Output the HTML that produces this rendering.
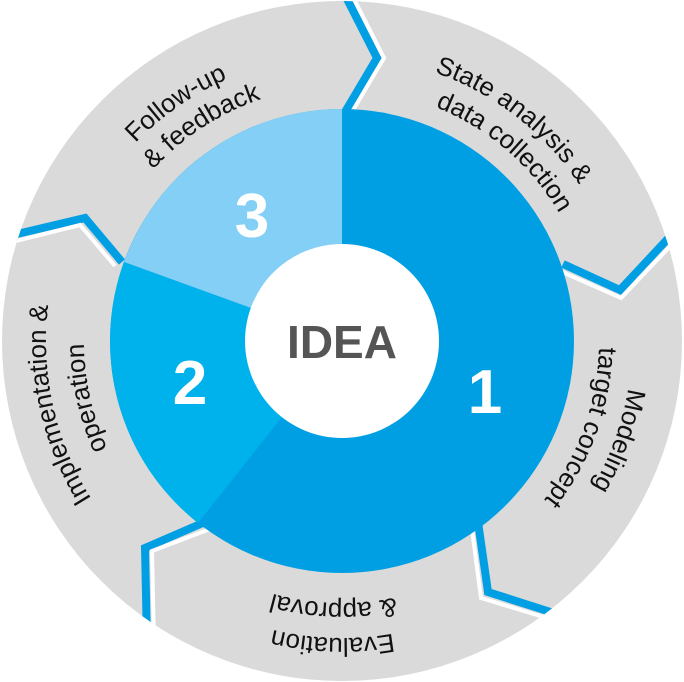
<!DOCTYPE html>
<html><head><meta charset="utf-8"><style>
html,body{margin:0;padding:0;background:#fff;}
svg{display:block;}
text{font-family:"Liberation Sans",sans-serif;}
</style></head><body>
<svg width="684" height="682" viewBox="0 0 684 682">
<defs>
<clipPath id="cl"><circle cx="342" cy="341" r="340"/></clipPath>
<path id="a1" d="M342,341 m0,-284 a284,284 0 1,1 0,568 a284,284 0 1,1 0,-568"/>
<path id="a2" d="M342,341 m0,-252 a252,252 0 1,1 0,504 a252,252 0 1,1 0,-504"/>
<path id="m1" d="M342,341 m0,-290 a290,290 0 1,1 0,580 a290,290 0 1,1 0,-580"/>
<path id="m2" d="M342,341 m0,-257 a257,257 0 1,1 0,514 a257,257 0 1,1 0,-514"/>
<path id="e1" d="M342,341 m0,-297 a297,297 0 1,1 0,594 a297,297 0 1,1 0,-594"/>
<path id="e2" d="M342,341 m0,-262 a262,262 0 1,1 0,524 a262,262 0 1,1 0,-524"/>
<path id="i1" d="M342,341 m0,-296 a296,296 0 1,1 0,592 a296,296 0 1,1 0,-592"/>
<path id="i2" d="M342,341 m0,-258 a258,258 0 1,1 0,516 a258,258 0 1,1 0,-516"/>
<path id="f1" d="M342,341 m0,-286 a286,286 0 1,1 0,572 a286,286 0 1,1 0,-572"/>
<path id="f2" d="M342,341 m0,-255 a255,255 0 1,1 0,510 a255,255 0 1,1 0,-510"/>
</defs>
<circle cx="342" cy="341" r="340" fill="#dadada"/>
<g clip-path="url(#cl)">
<g fill="none" stroke="#009fe3" stroke-width="8" stroke-linejoin="miter">
<polyline points="345,112 377,58 345,-5"/>
<polyline points="563,264 620,290 690,215"/>
<polyline points="478,522 488,592 560,615"/>
<polyline points="205,522 145,548 148,690"/>
<polyline points="122,262 85,218 0,238"/>
</g>
<g fill="none" stroke="#fff" stroke-width="4">
<polyline points="352,112 384,58 352,-5"/>
<polyline points="560,271 621,298 695,220"/>
<polyline points="471,522 481,598 560,622"/>
<polyline points="210,529 152,551 155,690"/>
<polyline points="115,266 80,225 0,245"/>
</g>
</g>
<circle cx="342" cy="341" r="232" fill="#009fe3"/>
<path d="M342,341 L342,109 A232,232 0 0,0 124,262 Z" fill="#84cff5"/>
<path d="M342,341 L124,262 A232,232 0 0,0 198,523 Z" fill="#00b2eb"/>
<circle cx="342" cy="341" r="97" fill="#fff"/>
<text x="342" y="358" font-size="46" font-weight="bold" fill="#555" text-anchor="middle">IDEA</text>
<text x="485" y="413" font-size="62" font-weight="bold" fill="#fff" text-anchor="middle">1</text>
<text x="190" y="404" font-size="62" font-weight="bold" fill="#fff" text-anchor="middle">2</text>
<text x="252" y="237" font-size="62" font-weight="bold" fill="#fff" text-anchor="middle">3</text>
<g font-size="26" fill="#111">
<text><textPath href="#a1" startOffset="10.5%" text-anchor="middle">State analysis &amp;</textPath></text>
<text><textPath href="#a2" startOffset="11.3%" text-anchor="middle">data collection</textPath></text>
<text><textPath href="#m1" startOffset="30.5%" text-anchor="middle">Modeling</textPath></text>
<text><textPath href="#m2" startOffset="30.5%" text-anchor="middle">target concept</textPath></text>
<text><textPath href="#e1" startOffset="50.5%" text-anchor="middle">Evaluation</textPath></text>
<text><textPath href="#e2" startOffset="50.5%" text-anchor="middle">&amp; approval</textPath></text>
<text><textPath href="#i1" startOffset="71.5%" text-anchor="middle">Implementation &amp;</textPath></text>
<text><textPath href="#i2" startOffset="71.5%" text-anchor="middle">operation</textPath></text>
<text><textPath href="#f1" startOffset="90.3%" text-anchor="middle">Follow-up</textPath></text>
<text><textPath href="#f2" startOffset="90.8%" text-anchor="middle">&amp; feedback</textPath></text>
</g>
</svg>
</body></html>
